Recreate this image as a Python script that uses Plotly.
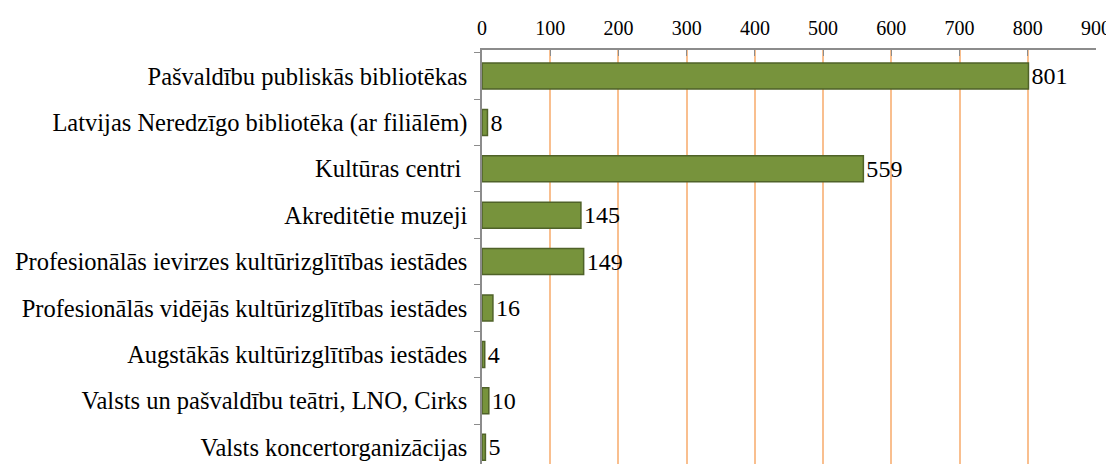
import plotly.graph_objects as go

categories = [
    "Pašvaldību publiskās bibliotēkas",
    "Latvijas Neredzīgo bibliotēka (ar filiālēm)",
    "Kultūras centri ",
    "Akreditētie muzeji",
    "Profesionālās ievirzes kultūrizglītības iestādes",
    "Profesionālās vidējās kultūrizglītības iestādes",
    "Augstākās kultūrizglītības iestādes",
    "Valsts un pašvaldību teātri, LNO, Cirks",
    "Valsts koncertorganizācijas",
]
values = [801, 8, 559, 145, 149, 16, 4, 10, 5]
x_ticks = [0, 100, 200, 300, 400, 500, 600, 700, 800, 900]

FONT = "Liberation Serif, Times New Roman, serif"

fig = go.Figure(
    go.Bar(
        y=categories,
        x=values,
        orientation="h",
        width=0.56,
        marker=dict(color="#77933C", line=dict(color="#4F6228", width=1.5)),
        text=[str(v) for v in values],
        textposition="outside",
        cliponaxis=False,
        textfont=dict(family=FONT, size=25, color="#000000"),
    )
)

# page body has an 8px default margin, so the figure is sized 8px smaller
fig.update_layout(
    width=1106,
    height=456,
    margin=dict(l=474, r=18, t=42, b=0, autoexpand=False),
    paper_bgcolor="white",
    plot_bgcolor="white",
    showlegend=False,
    font=dict(family=FONT, color="#000000"),
    xaxis=dict(
        side="top",
        range=[0, 900],
        tickvals=x_ticks,
        ticktext=[str(t) for t in x_ticks],
        showgrid=True,
        gridcolor="#F9BF8F",
        gridwidth=1.5,
        zeroline=False,
        showline=True,
        linecolor="#8C8C8C",
        linewidth=1.5,
        ticks="inside",
        ticklen=6,
        tickcolor="#8C8C8C",
        tickfont=dict(family=FONT, size=20),
        ticklabelstandoff=5,
        automargin=False,
    ),
    yaxis=dict(
        type="category",
        categoryorder="array",
        categoryarray=categories,
        range=[8.362, -0.56],
        showline=True,
        linecolor="#8C8C8C",
        linewidth=1.5,
        ticks="outside",
        tickson="boundaries",
        ticklen=6,
        tickcolor="#8C8C8C",
        showgrid=False,
        tickfont=dict(family=FONT, size=24.5),
        ticklabelstandoff=8,
        automargin=False,
    ),
)

fig.write_html("out.html")
